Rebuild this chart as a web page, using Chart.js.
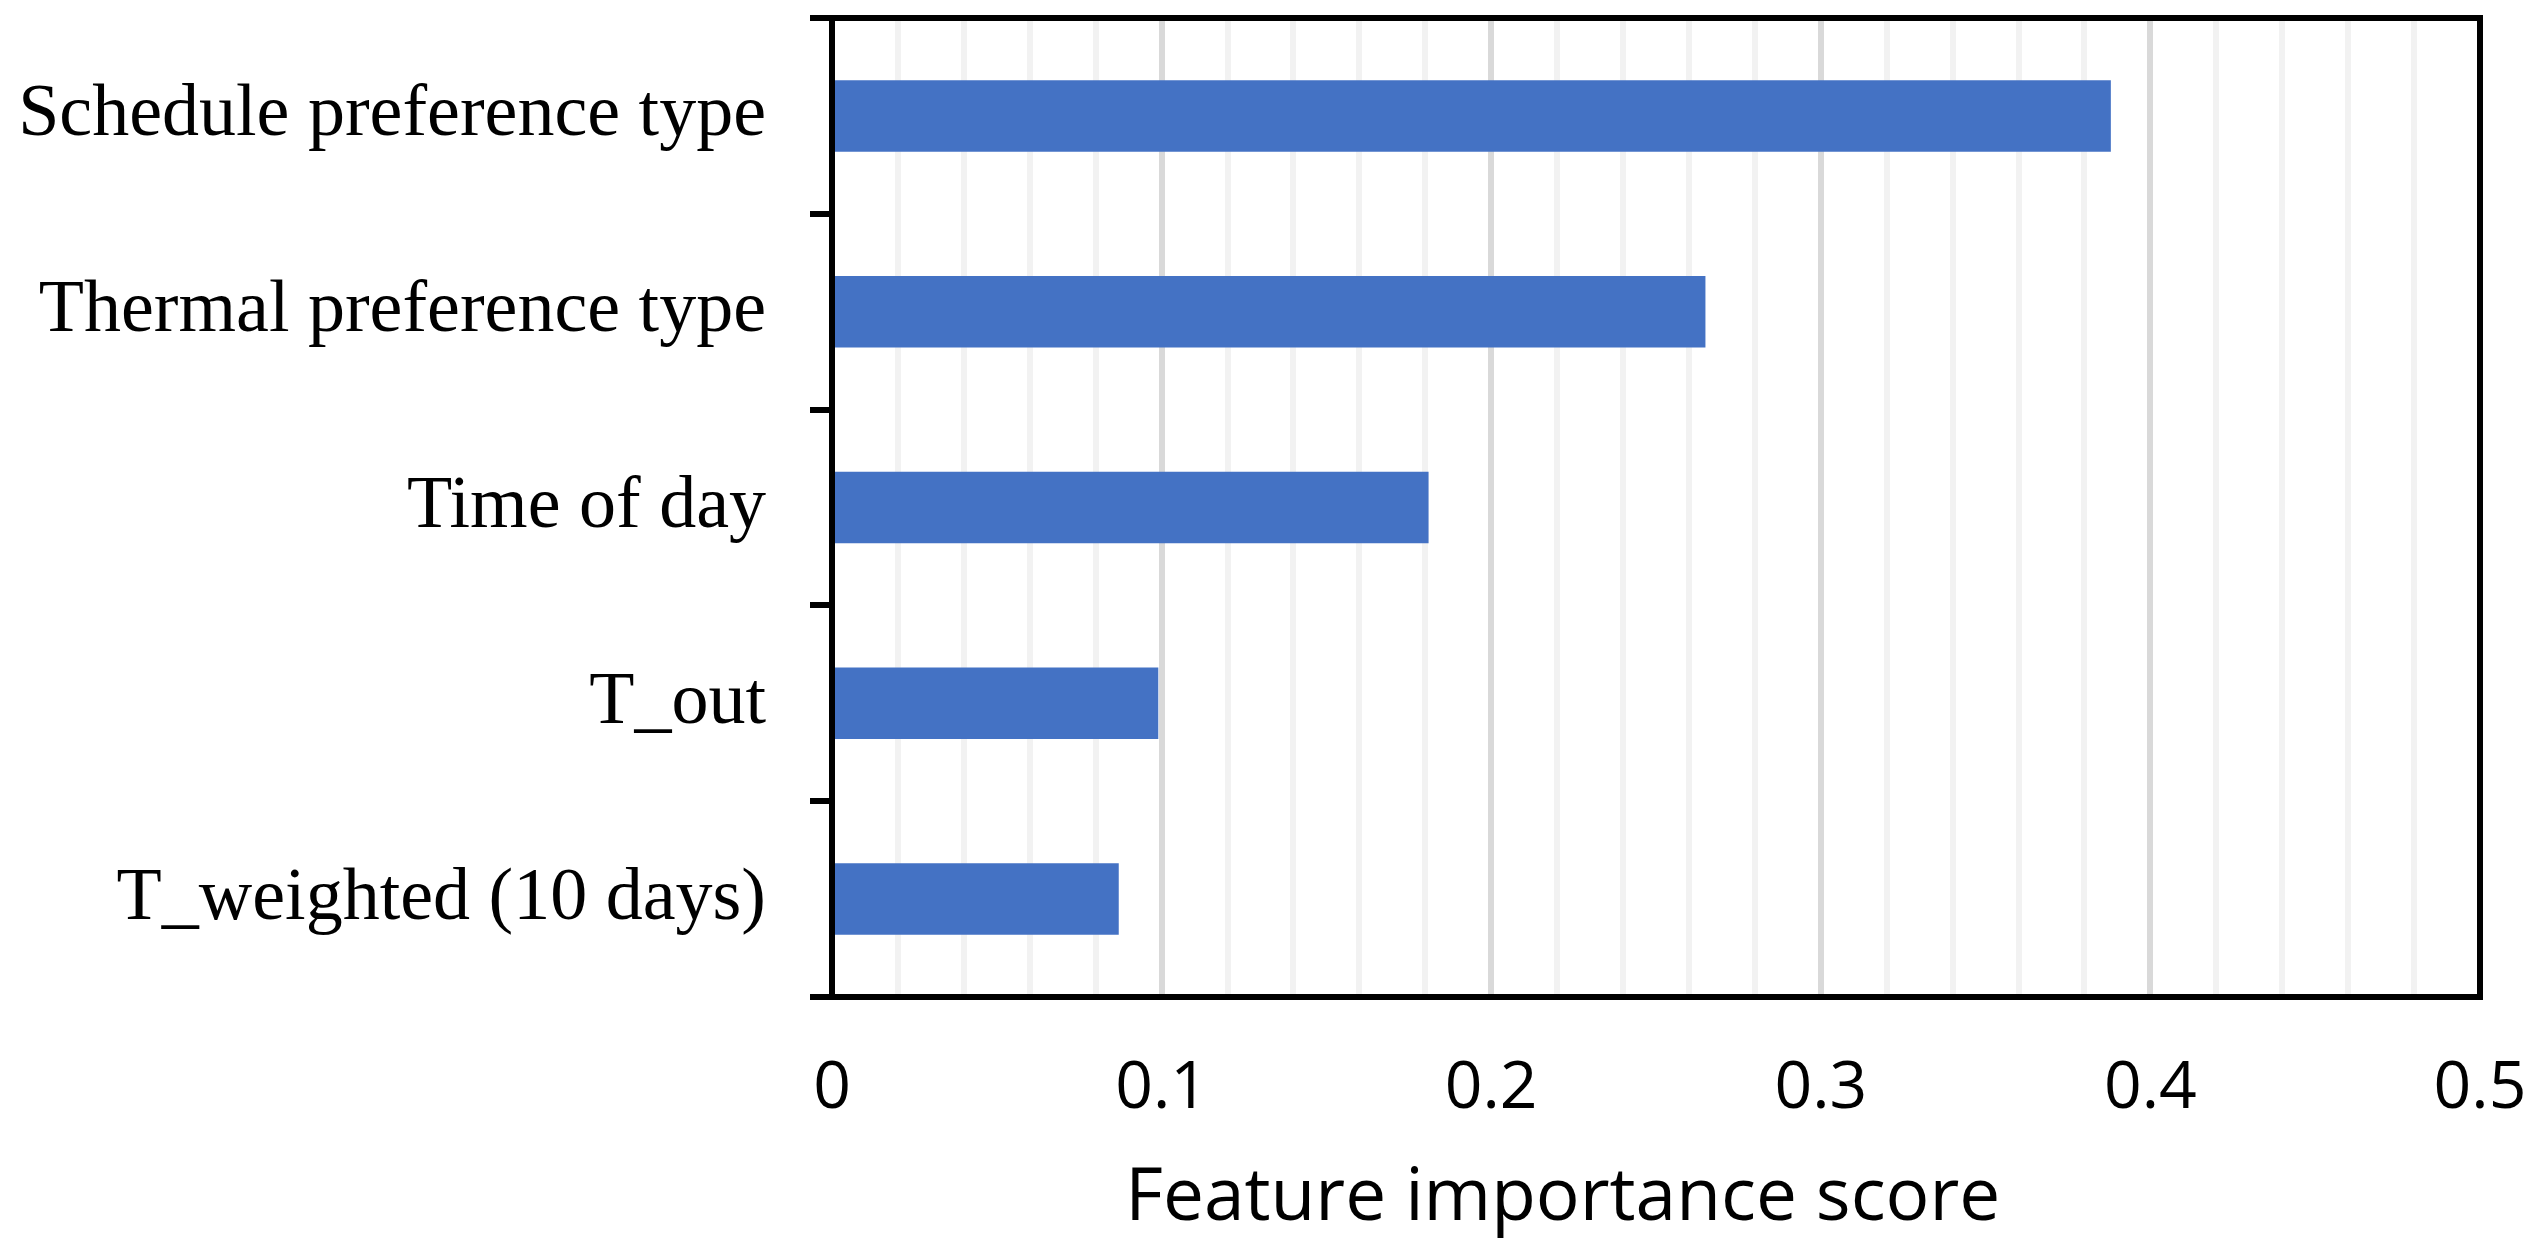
<!DOCTYPE html>
<html>
<head>
<meta charset="utf-8">
<script src="https://cdn.jsdelivr.net/npm/chart.js@4/dist/chart.umd.min.js"></script>
<style>
  html, body { margin: 0; padding: 0; background: #fff; }
  #wrap { width: 2543px; height: 1245px; }
</style>
</head>
<body>
<div id="wrap"><canvas id="importance" width="2543" height="1245"></canvas></div>
<script>
// feature names, top to bottom
const features = ["Schedule preference type", "Thermal preference type", "Time of day", "T_out", "T_weighted (10 days)"]
// feature importance scores
const scores = [0.388, 0.265, 0.181, 0.099, 0.087]
const xMin = 0
const xMax = 0.5
const minorStep = 0.02
const majorTicks = [0, 0.1, 0.2, 0.3, 0.4, 0.5]
const xTitle = 'Feature importance score'

// top + right edges of the plot box, and the x title (sits left of centre in the original)
const frame = {
    id: 'frame',
    afterDatasetsDraw(chart) {
        const a = chart.chartArea
        const ctx = chart.ctx
        ctx.save()
        ctx.strokeStyle = '#000'
        ctx.lineWidth = 6
        ctx.beginPath()
        ctx.moveTo(a.left - 22, a.top)
        ctx.lineTo(a.right, a.top)
        ctx.lineTo(a.right, a.bottom)
        ctx.stroke()

        ctx.fillStyle = '#000'
        ctx.font = '73px "Open Sans"'
        ctx.textAlign = 'left'
        ctx.textBaseline = 'alphabetic'
        ctx.fillText(xTitle, a.left + (a.right - a.left) * 0.178, a.bottom + 223)
        ctx.restore()
    }
}

const isMajor = (v) => majorTicks.some(m => Math.abs(m - v) < 1e-6)

const ctx = document.getElementById("importance").getContext("2d")
new Chart(ctx, {
    type: 'bar',
    data: {
        labels: features,
        datasets: [{
            label: xTitle,
            data: scores,
            backgroundColor: '#4472c4',
            borderWidth: 0,
            categoryPercentage: 1,
            barPercentage: 0.365
        }]
    },
    options: {
        indexAxis: 'y',
        responsive: false,
        animation: false,
        devicePixelRatio: 1,
        layout: {
            padding: { left: 0, right: 63, top: 18, bottom: 0 }
        },
        scales: {
            x: {
                min: xMin,
                max: xMax,
                afterFit: (scale) => {
                    scale.height = 248
                    scale.paddingLeft = 0
                    scale.paddingRight = 0
                },
                ticks: {
                    stepSize: minorStep,
                    autoSkip: false,
                    maxRotation: 0,
                    padding: 53,
                    color: '#000',
                    font: { family: 'Open Sans', size: 66 },
                    callback: (v) => isMajor(v) ? String(Math.round(v * 10) / 10) : ''
                },
                grid: {
                    drawTicks: false,
                    lineWidth: 6,
                    color: (c) => isMajor(c.tick.value) ? '#d9d9d9' : '#f2f2f2'
                },
                border: { color: '#000', width: 6 },
                title: { display: false }
            },
            y: {
                afterFit: (scale) => {
                    scale.width = 832
                    scale.paddingTop = 0
                    scale.paddingBottom = 0
                },
                ticks: {
                    padding: 44,
                    color: '#000',
                    font: { family: 'Liberation Serif', size: 74 }
                },
                grid: {
                    offset: true,
                    drawOnChartArea: false,
                    drawTicks: true,
                    tickLength: 22,
                    lineWidth: 6,
                    color: '#000'
                },
                border: { color: '#000', width: 6 }
            }
        },
        plugins: {
            legend: { display: false },
            tooltip: { enabled: false }
        }
    },
    plugins: [frame]
});
</script>
</body>
</html>
